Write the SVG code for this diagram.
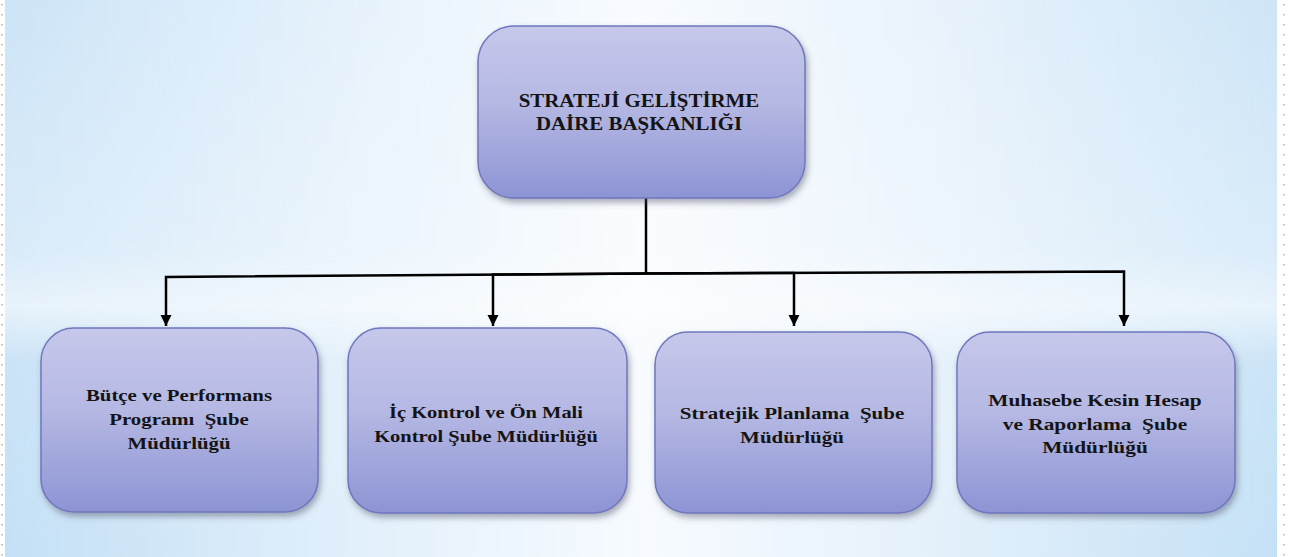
<svg xmlns="http://www.w3.org/2000/svg" width="1291" height="557" viewBox="0 0 1291 557">
<style>
.box{stroke:#6f77bd;stroke-width:1.5;fill:url(#boxGrad);filter:url(#shadow)}
.lbl{font-family:"Liberation Serif","Times New Roman",serif;font-weight:bold;font-size:17.5px;fill:#141414;text-anchor:middle}
.top{font-size:19px}
.dots{stroke:#b5b5b5;stroke-width:1.6;stroke-dasharray:1.6 8.4;fill:none}
</style>
<defs>
<linearGradient id="bgH" x1="0" y1="0" x2="1" y2="0">
<stop offset="0" stop-color="#c4e0f6"/>
<stop offset="0.28" stop-color="#e2f0fb"/>
<stop offset="0.5" stop-color="#f7fbff"/>
<stop offset="0.72" stop-color="#e5f1fb"/>
<stop offset="1" stop-color="#c5e1f6"/>
</linearGradient>
<linearGradient id="bgV" x1="0" y1="0" x2="0" y2="1">
<stop offset="0" stop-color="#ffffff" stop-opacity="0.15"/>
<stop offset="0.45" stop-color="#ffffff" stop-opacity="0.35"/>
<stop offset="0.55" stop-color="#ffffff" stop-opacity="0.6"/>
<stop offset="0.65" stop-color="#ffffff" stop-opacity="0.1"/>
<stop offset="1" stop-color="#ffffff" stop-opacity="0"/>
</linearGradient>
<linearGradient id="boxGrad" x1="0" y1="0" x2="0" y2="1">
<stop offset="0" stop-color="#c6c8eb"/>
<stop offset="0.45" stop-color="#b5b8e3"/>
<stop offset="1" stop-color="#8d94d4"/>
</linearGradient>
<filter id="shadow" x="-10%" y="-10%" width="125%" height="130%">
<feDropShadow dx="2" dy="4" stdDeviation="3" flood-color="#4a4a60" flood-opacity="0.45"/>
</filter>
<marker id="arr" markerUnits="userSpaceOnUse" markerWidth="12" markerHeight="12" viewBox="0 0 12 12" refX="11" refY="6" orient="auto">
<path d="M0,0.5 L11,6 L0,11.5 z" fill="#000"/>
</marker>
</defs>

<g id="background">
<rect x="0" y="0" width="1291" height="557" fill="#ffffff"/>
<rect x="5" y="0" width="1272" height="557" fill="url(#bgH)"/>
<rect x="5" y="0" width="1272" height="557" fill="url(#bgV)"/>
<line class="dots" x1="2" y1="4" x2="2" y2="557"/>
<line class="dots" x1="1284" y1="4" x2="1284" y2="557"/>
</g>

<g id="connectors" fill="none" stroke="#000" stroke-width="2.5">
<path d="M646,198 V273.5"/>
<path d="M646,273.5 L166,277 V326" marker-end="url(#arr)"/>
<path d="M646,273.5 L493,274.6 V326" marker-end="url(#arr)"/>
<path d="M646,273.5 L794,272.9 V326" marker-end="url(#arr)"/>
<path d="M646,273.5 L1124,271.5 V326" marker-end="url(#arr)"/>
</g>

<g id="node-top">
<rect class="box" x="478" y="26" width="327" height="172" rx="36" ry="36"/>
<g transform="translate(639 0) scale(1.1 1)">
<text class="lbl top" x="0" y="107">STRATEJİ GELİŞTİRME</text>
<text class="lbl top" x="0" y="130">DAİRE BAŞKANLIĞI</text>
</g>
</g>

<g id="node-butce">
<rect class="box" x="41" y="328" width="277" height="184" rx="33" ry="33"/>
<g transform="translate(179 0) scale(1.19 1)">
<text class="lbl" x="0" y="401">Bütçe ve Performans</text>
<text class="lbl" x="0" y="425" xml:space="preserve">Programı  Şube</text>
<text class="lbl" x="0" y="449">Müdürlüğü</text>
</g>
</g>

<g id="node-ickontrol">
<rect class="box" x="348" y="328" width="279" height="185" rx="33" ry="33"/>
<g transform="translate(486 0) scale(1.17 1)">
<text class="lbl" x="0" y="418">İç Kontrol ve Ön Mali</text>
<text class="lbl" x="0" y="442">Kontrol Şube Müdürlüğü</text>
</g>
</g>

<g id="node-stratejik">
<rect class="box" x="655" y="332" width="277" height="181" rx="33" ry="33"/>
<g transform="translate(792 0) scale(1.2 1)">
<text class="lbl" x="0" y="419" xml:space="preserve">Stratejik Planlama  Şube</text>
<text class="lbl" x="0" y="443">Müdürlüğü</text>
</g>
</g>

<g id="node-muhasebe">
<rect class="box" x="957" y="332" width="278" height="181" rx="33" ry="33"/>
<g transform="translate(1095 0) scale(1.22 1)">
<text class="lbl" x="0" y="406">Muhasebe Kesin Hesap</text>
<text class="lbl" x="0" y="430" xml:space="preserve">ve Raporlama  Şube</text>
<text class="lbl" x="0" y="453">Müdürlüğü</text>
</g>
</g>
</svg>
